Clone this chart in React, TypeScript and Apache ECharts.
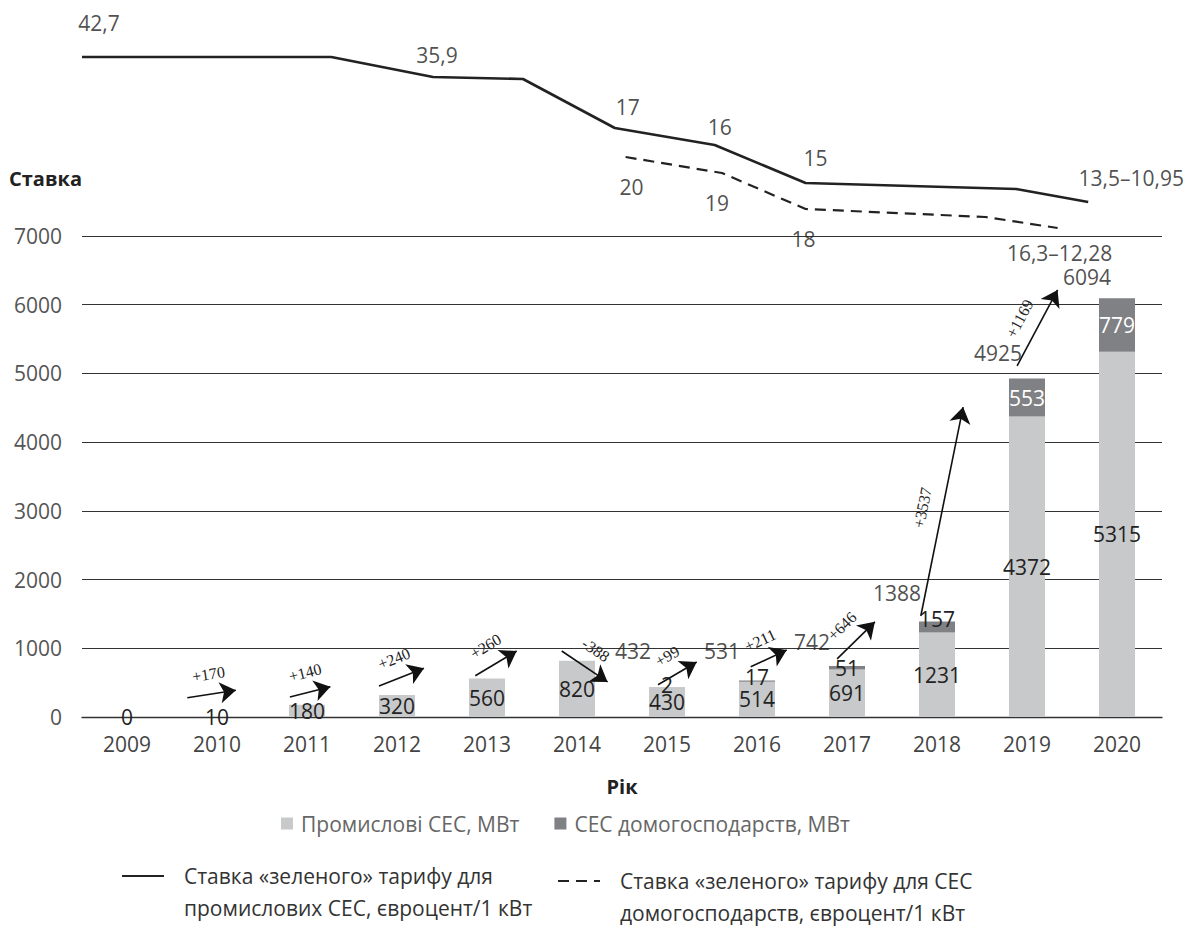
import React, { useEffect, useRef } from 'react';
import * as echarts from 'echarts';

// ---------- data ----------
const years = ['2009', '2010', '2011', '2012', '2013', '2014', '2015', '2016', '2017', '2018', '2019', '2020'];
const industrialMW = [0, 10, 180, 320, 560, 820, 430, 514, 691, 1231, 4372, 5315];
const householdMW = [null, null, null, null, null, null, 2, 17, 51, 157, 553, 779];
const totalMW = [null, null, null, null, null, null, 432, 531, 742, 1388, 4925, 6094];

// change arrows (tail / head in [year position, MW])
const arrowFrom = [
  [2009.67, 280], [2010.81, 290], [2011.8, 450], [2012.87, 600], [2013.83, 960],
  [2014.9, 470], [2015.93, 730], [2016.89, 845], [2017.82, 1470], [2018.89, 5110],
];
const arrowTo = [
  [2010.21, 390], [2011.26, 440], [2012.3, 710], [2013.33, 960], [2014.34, 510],
  [2015.33, 800], [2016.33, 975], [2017.31, 1385], [2018.29, 4510], [2019.34, 6215],
];
const arrowLabels = ['+170', '+140', '+240', '+260', '-388', '+99', '+211', '+646', '+3537', '+1169'];

// green tariff lines (year position, drawing level)
const solidTariffX = [2008.5, 2011.27, 2012.4, 2013.4, 2014.42, 2015.53, 2016.54, 2018.88, 2019.68];
const solidTariffLevel = [179, 179, 159, 157, 108, 91, 53, 47, 34];
const solidTariffLabels = ['42,7', '', '35,9', '', '17', '16', '15', '', '13,5–10,95'];
const dashedTariffX = [2014.54, 2015.61, 2016.54, 2018.54, 2019.34];
const dashedTariffLevel = [79, 63, 27, 19, 8];
const dashedTariffLabels = ['20', '19', '18', '', '16,3–12,28'];

const seriesNames = [
  'Промислові СЕС, МВт',
  'СЕС домогосподарств, МВт',
  'Ставка «зеленого» тарифу для промислових СЕС, євроцент/1 кВт',
  'Ставка «зеленого» тарифу для СЕС домогосподарств, євроцент/1 кВт',
];
const legendLines: Record<string, string> = {
  [seriesNames[2]]: 'Ставка «зеленого» тарифу для\nпромислових СЕС, євроцент/1 кВт',
  [seriesNames[3]]: 'Ставка «зеленого» тарифу для СЕС\nдомогосподарств, євроцент/1 кВт',
};

// ---------- label placement (style) ----------
const householdLabelOffsets: Record<number, number[]> = { 6: [0, -2], 7: [0, -4], 8: [0, 0], 9: [0, -8] };
const totalLabelOffsets: Record<number, number[]> = {
  6: [-34, -36], 7: [-35, -30], 8: [-35, -24], 9: [-40, -29], 10: [-29, -26], 11: [-30, -21],
};
const solidLabelOffsets = [[17, -34], null, [4, -22], null, [13, -21], [5, -18], [10, -25], null, [43, -24]];
const dashedLabelOffsets = [[6, 30], [-5, 30], [-2, 30], null, [2, 25]];

const FONT = "'Open Sans', 'Noto Sans', sans-serif";
const SERIF = "'Liberation Serif', 'DejaVu Serif', serif";

export default function App() {
  const ref = useRef<HTMLDivElement>(null);

  useEffect(() => {
    if (!ref.current) return;
    const chart = echarts.init(ref.current, null, { renderer: 'svg' });

    const householdData = householdMW.map((v, i) =>
      v == null
        ? null
        : {
            value: v,
            label: {
              color: i >= 10 ? '#ffffff' : '#222',
              offset: householdLabelOffsets[i] || [0, 0],
            },
          }
    );
    const totalData = totalMW.map((v, i) =>
      v == null ? null : { value: v, label: { offset: totalLabelOffsets[i] || [0, 0] } }
    );
    const solidLabelData = solidTariffX
      .map((x, i) => ({ x, i }))
      .filter((p) => solidTariffLabels[p.i] !== '')
      .map((p) => ({
        value: [p.x, solidTariffLevel[p.i]],
        label: { formatter: solidTariffLabels[p.i], offset: solidLabelOffsets[p.i] },
      }));
    const dashedLabelData = dashedTariffX
      .map((x, i) => ({ x, i }))
      .filter((p) => dashedTariffLabels[p.i] !== '')
      .map((p) => ({
        value: [p.x, dashedTariffLevel[p.i]],
        label: { formatter: dashedTariffLabels[p.i], offset: dashedLabelOffsets[p.i] },
      }));

    const lineLegendCommon = {
      itemWidth: 42,
      itemHeight: 14,
      itemStyle: { color: 'transparent', borderWidth: 0, opacity: 0 },
      formatter: (n: string) => '\n' + (legendLines[n] || n),
      textStyle: { color: '#333', fontSize: 21, lineHeight: 32, fontFamily: FONT, padding: [0, 0, 0, 15] },
    };

    const option: any = {
      animation: false,
      textStyle: { fontFamily: FONT },
      grid: [
        { left: 82, width: 1080, top: 236, height: 481 },
        { left: 82, width: 1080, top: 0, height: 236 },
      ],
      xAxis: [
        {
          type: 'category',
          gridIndex: 0,
          data: years,
          axisTick: { show: false },
          axisLine: { lineStyle: { color: '#333', width: 1.3 } },
          axisLabel: { color: '#444', fontSize: 21, margin: 16, fontFamily: FONT },
          name: 'Рік',
          nameLocation: 'middle',
          nameGap: 59,
          nameTextStyle: { color: '#222', fontSize: 20, fontWeight: 'bold', fontFamily: FONT },
        },
        { type: 'value', gridIndex: 0, min: 2008.5, max: 2020.5, show: false },
        { type: 'value', gridIndex: 1, min: 2008.5, max: 2020.5, show: false },
      ],
      yAxis: [
        {
          type: 'value',
          gridIndex: 0,
          min: 0,
          max: 7000,
          interval: 1000,
          axisLine: { show: false },
          axisTick: { show: false },
          axisLabel: {
            color: '#555',
            fontSize: 21,
            margin: 20,
            fontFamily: FONT,
            formatter: (v: number) => String(v),
          },
          splitLine: { lineStyle: { color: '#333', width: 1.2 } },
          name: 'Ставка',
          nameLocation: 'end',
          nameGap: 58,
          nameTextStyle: {
            color: '#222',
            fontSize: 20,
            fontWeight: 'bold',
            align: 'right',
            verticalAlign: 'middle',
            fontFamily: FONT,
          },
        },
        { type: 'value', gridIndex: 1, min: 0, max: 236, show: false },
      ],
      legend: [
        {
          data: [seriesNames[0], seriesNames[1]],
          left: 276,
          top: 808,
          icon: 'rect',
          itemWidth: 12,
          itemHeight: 12,
          itemGap: 35,
          textStyle: { color: '#666', fontSize: 21, fontFamily: FONT, padding: [0, 0, 0, 3] },
        },
        { ...lineLegendCommon, data: [seriesNames[2]], left: 116, top: 823 },
        { ...lineLegendCommon, data: [seriesNames[3]], left: 552, top: 828 },
      ],
      series: [
        {
          name: seriesNames[0],
          type: 'bar',
          stack: 'ses',
          xAxisIndex: 0,
          yAxisIndex: 0,
          barWidth: 36,
          data: industrialMW,
          itemStyle: { color: '#c8c9cb' },
          label: { show: true, position: 'inside', color: '#222', fontSize: 21, fontFamily: FONT },
        },
        {
          name: seriesNames[1],
          type: 'bar',
          stack: 'ses',
          xAxisIndex: 0,
          yAxisIndex: 0,
          barWidth: 36,
          data: householdData,
          itemStyle: { color: '#808184' },
          label: { show: true, position: 'inside', color: '#222', fontSize: 21, fontFamily: FONT },
        },
        {
          name: 'totals',
          type: 'scatter',
          xAxisIndex: 0,
          yAxisIndex: 0,
          symbolSize: 0,
          data: totalData,
          label: { show: true, position: 'inside', formatter: '{c}', color: '#222', fontSize: 21, fontFamily: FONT },
          z: 6,
        },
        {
          name: 'changes',
          type: 'lines',
          coordinateSystem: 'cartesian2d',
          xAxisIndex: 1,
          yAxisIndex: 0,
          symbol: ['none', 'arrow'],
          symbolSize: 16,
          lineStyle: { color: '#111', width: 1.6, opacity: 1, curveness: 0 },
          label: {
            show: true,
            position: 'middle',
            formatter: '{b}',
            fontFamily: SERIF,
            fontSize: 16,
            color: '#222',
            distance: 12,
          },
          data: arrowFrom.map((f, i) => ({ name: arrowLabels[i], coords: [f, arrowTo[i]] })),
          z: 5,
        },
        {
          name: seriesNames[2],
          type: 'line',
          xAxisIndex: 2,
          yAxisIndex: 1,
          symbol: 'none',
          clip: false,
          data: solidTariffX.map((x, i) => [x, solidTariffLevel[i]]),
          lineStyle: { color: '#222', width: 2.6 },
          itemStyle: { color: '#222' },
        },
        {
          name: seriesNames[3],
          type: 'line',
          xAxisIndex: 2,
          yAxisIndex: 1,
          symbol: 'none',
          clip: false,
          data: dashedTariffX.map((x, i) => [x, dashedTariffLevel[i]]),
          lineStyle: { color: '#222', width: 2.2, type: [11, 7] },
          itemStyle: { color: '#222' },
        },
        {
          name: 'tariffLabels',
          type: 'scatter',
          xAxisIndex: 2,
          yAxisIndex: 1,
          symbolSize: 0,
          data: [...solidLabelData, ...dashedLabelData],
          label: { show: true, position: 'inside', color: '#222', fontSize: 21, fontFamily: FONT },
        },
      ],
    };

    chart.setOption(option);
    return () => chart.dispose();
  }, []);

  return (
    <div
      ref={ref}
      style={{ position: 'absolute', left: 0, top: 0, width: 1198, height: 946, background: '#fff' }}
    />
  );
}
